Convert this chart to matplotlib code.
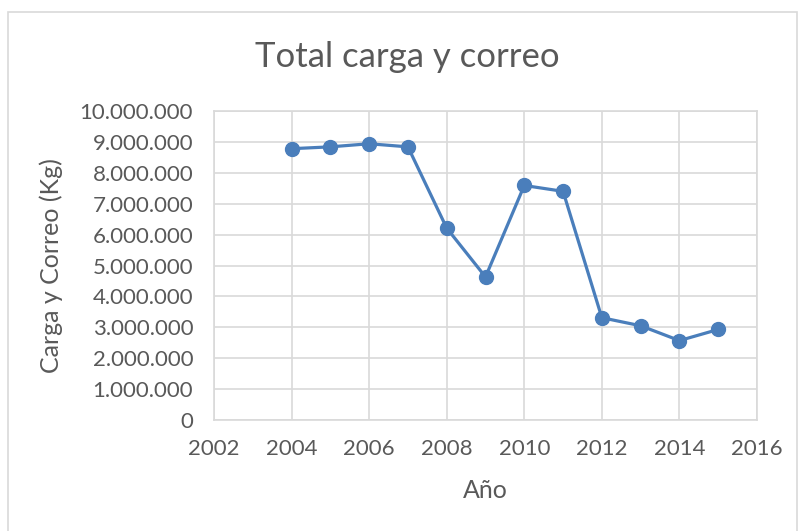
import matplotlib.pyplot as plt
import matplotlib.ticker as mticker
from matplotlib.patches import Rectangle

# data
years = [2004, 2005, 2006, 2007, 2008, 2009, 2010, 2011, 2012, 2013, 2014, 2015]
carga_correo = [8780000, 8840000, 8940000, 8840000, 6210000, 4630000,
                7590000, 7400000, 3310000, 3050000, 2570000, 2930000]

plt.rcParams['font.family'] = ['Lato', 'DejaVu Sans']
gray = '#595959'

fig = plt.figure(figsize=(7.99, 5.31), dpi=100)
ax = fig.add_axes([214 / 799, 1 - 420 / 531, (757 - 214) / 799, (420 - 111) / 531])

ax.plot(years, carga_correo, color='#4a7ebb', linewidth=2.3,
        marker='o', markersize=10, zorder=3)

ax.set_xlim(2002, 2016)
ax.set_ylim(0, 10000000)
ax.xaxis.set_major_locator(mticker.MultipleLocator(2))
ax.yaxis.set_major_locator(mticker.MultipleLocator(1000000))
ax.yaxis.set_major_formatter(mticker.FuncFormatter(lambda v, p: f'{int(v):,}'.replace(',', '.')))

ax.grid(True, color='#d9d9d9', linewidth=1.2)
ax.set_axisbelow(True)
for s in ax.spines.values():
    s.set_color('#d9d9d9')
    s.set_linewidth(1.2)
ax.tick_params(length=0, labelsize=16, colors=gray)
ax.tick_params(axis='y', pad=15)
ax.tick_params(axis='x', pad=14)

ax.set_xlabel('Año', fontsize=18, color=gray, labelpad=14)
ax.set_ylabel('Carga y Correo (Kg)', fontsize=18, color=gray, labelpad=12)
fig.text(0.51, 1 - 57 / 531, 'Total carga y correo', fontsize=25, color=gray,
         ha='center', va='center')

fig.patches.append(Rectangle((8 / 799, -0.05), (797 - 8) / 799, 1.05 - 12 / 531,
                             transform=fig.transFigure, fill=False,
                             edgecolor='#d9d9d9', linewidth=1.2))

plt.savefig('out.png', dpi=100)
